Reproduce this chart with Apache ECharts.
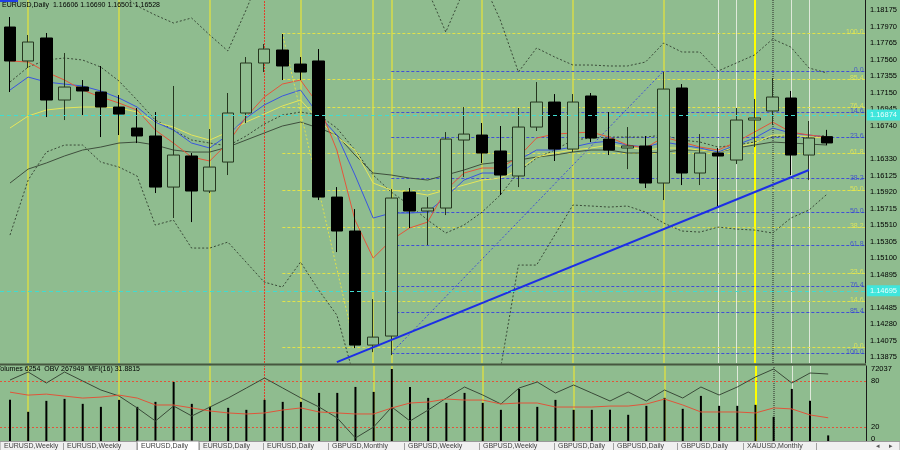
<!DOCTYPE html>
<html><head><meta charset="utf-8">
<script src="https://cdn.jsdelivr.net/npm/echarts@6/dist/echarts.min.js"></script>
<style>html,body{margin:0;padding:0;background:#8fbc8f;overflow:hidden}#c{width:900px;height:450px}</style>
</head><body><div id="c"></div>
<script>
// ---- data: EURUSD Daily, [open, close, low, high] ----
const candles = [
[1.17965,1.17544,1.17159,1.18089],[1.17544,1.17779,1.17457,1.17866],[1.17829,1.17060,1.16849,1.17891],
[1.17060,1.17221,1.16812,1.17643],[1.17221,1.17172,1.16874,1.17308],[1.17159,1.16973,1.16601,1.17482],
[1.16973,1.16886,1.16626,1.17122],[1.16713,1.16614,1.16527,1.16961],[1.16614,1.15981,1.15907,1.16911],
[1.15981,1.16378,1.15597,1.17234],[1.16366,1.15932,1.15547,1.16403],[1.15932,1.16229,1.15907,1.16700],
[1.16291,1.16899,1.16130,1.17147],[1.16899,1.17519,1.16775,1.17593],[1.17519,1.17692,1.17407,1.17754],
[1.17680,1.17482,1.17308,1.17878],[1.17506,1.17407,1.17308,1.17593],[1.17544,1.15857,1.15820,1.17692],
[1.15857,1.15436,1.15175,1.15981],[1.15436,1.14022,1.13985,1.15708],[1.14022,1.14121,1.13935,1.14592],
[1.14134,1.15845,1.13898,1.15956],[1.15919,1.15684,1.15473,1.15969],[1.15684,1.15721,1.15262,1.15857],
[1.15721,1.16576,1.15634,1.16663],[1.16564,1.16638,1.16105,1.16973],[1.16626,1.16403,1.16279,1.16775],
[1.16428,1.16130,1.15882,1.16738],[1.16118,1.16725,1.15981,1.16961],[1.16725,1.17035,1.16676,1.17283],
[1.17035,1.16452,1.16304,1.17134],[1.16452,1.17035,1.16415,1.17134],[1.17110,1.16589,1.16539,1.17147],
[1.16576,1.16440,1.16378,1.16911],[1.16465,1.16490,1.16204,1.16725],[1.16490,1.16031,1.15969,1.16614],
[1.16031,1.17196,1.15820,1.17407],[1.17209,1.16155,1.16006,1.17258],[1.16155,1.16403,1.16006,1.16638],
[1.16403,1.16366,1.15733,1.16465],[1.16316,1.16812,1.16266,1.16961],[1.16812,1.16837,1.16477,1.17072],
[1.16924,1.17097,1.16750,1.17333],[1.17085,1.16378,1.16130,1.17172],[1.16378,1.16589,1.16068,1.16800],
[1.16606,1.16528,1.16501,1.16690]
];
const maRed = [1.17544,1.17531,1.17407,1.17308,1.17184,1.17097,1.17023,1.16936,1.16688,1.16527,1.16353,1.16304,1.16527,1.16849,1.17097,1.17258,1.17308,
1.16998,1.16440,1.15572,1.15101,1.15324,1.15473,1.15547,1.15944,1.16155,1.16217,1.16217,1.16353,1.16589,1.16638,1.16651,1.16663,
1.16601,1.16502,1.16465,1.16601,1.16539,1.16477,1.16440,1.16539,1.16663,1.16787,1.16663,1.16626,1.16601];
const maBlue = [1.17184,1.17345,1.17283,1.17258,1.17234,1.17172,1.17085,1.16973,1.16787,1.16688,1.16527,1.16465,1.16626,1.16837,1.16998,1.17110,1.17184,
1.16874,1.16626,1.16130,1.15597,1.15659,1.15659,1.15671,1.15857,1.16068,1.16155,1.16155,1.16316,1.16440,1.16440,1.16477,1.16527,
1.16552,1.16502,1.16477,1.16539,1.16502,1.16465,1.16415,1.16502,1.16589,1.16713,1.16651,1.16626,1.16601];
const maYellow = [1.16713,1.16862,1.16936,1.16961,1.16973,1.16973,1.16961,1.16911,1.16787,1.16725,1.16626,1.16564,1.16663,1.16787,1.16886,1.16986,1.17060,
1.16812,1.16601,1.16440,1.16031,1.15944,1.15919,1.15882,1.15944,1.16006,1.16068,1.16093,1.16192,1.16353,1.16403,1.16440,1.16465,
1.16502,1.16477,1.16440,1.16465,1.16465,1.16440,1.16415,1.16477,1.16527,1.16626,1.16626,1.16601,1.16589];
const maGray = [1.16031,1.16204,1.16279,1.16366,1.16440,1.16477,1.16527,1.16539,1.16502,1.16440,1.16415,1.16415,1.16477,1.16564,1.16651,1.16738,1.16787,
1.16713,1.16626,1.16378,1.16155,1.16130,1.16093,1.16068,1.16130,1.16192,1.16266,1.16291,1.16316,1.16353,1.16378,1.16415,1.16440,
1.16440,1.16403,1.16403,1.16415,1.16440,1.16440,1.16415,1.16465,1.16502,1.16539,1.16527,1.16514,1.16502];
const bbUpper = [1.19032,1.18870,1.18697,1.18660,1.18660,1.18697,1.18399,1.18226,1.18114,1.18015,1.18077,1.17866,1.17668,1.18176,1.18722,1.19007,1.18771,
1.19044,1.19032,1.19292,1.18672,1.18672,1.18672,1.18424,1.17903,1.18424,1.18548,1.18052,1.17407,1.17705,1.17593,1.17494,1.17494,
1.17482,1.17482,1.17531,1.17767,1.17655,1.17655,1.17420,1.17519,1.17618,1.17816,1.17717,1.17457,1.17395];
const bbMiddle = [1.17283,1.17469,1.17556,1.17581,1.17556,1.17469,1.17296,1.17060,1.16812,1.16688,1.16564,1.16527,1.16490,1.16614,1.16762,1.16874,1.16911,
1.16874,1.16713,1.16440,1.16130,1.15919,1.15758,1.15572,1.15411,1.15510,1.15671,1.15882,1.16167,1.16341,1.16440,1.16564,1.16589,
1.16601,1.16601,1.16601,1.16626,1.16564,1.16539,1.16477,1.16502,1.16539,1.16601,1.16626,1.16589,1.16626];
const bbLower = [1.15386,1.16068,1.16415,1.16502,1.16502,1.16291,1.16229,1.16118,1.15510,1.15572,1.15225,1.15225,1.15299,1.15051,1.14803,1.14741,1.15051,
1.14704,1.14394,1.13588,1.13588,1.13166,1.12844,1.12720,1.12918,1.12844,1.12968,1.13712,1.15014,1.15014,1.15386,1.15758,1.15746,
1.15733,1.15746,1.15671,1.15535,1.15436,1.15423,1.15485,1.15460,1.15448,1.15411,1.15597,1.15696,1.15894];
const volumes = [39930,28600,38990,40880,36160,33320,39930,33320,38040,56920,36160,33320,32380,30490,39930,38040,38040,
46540,46540,52200,47480,69190,52200,41820,37100,46540,37100,30490,50310,33320,39930,30490,30490,
30490,25770,34270,41820,31440,43710,34270,34270,35210,23880,50310,38990,6254];
const obv = [245749,275349,234649,275349,242049,208749,186549,142149,94049,149549,112549,145849,179149,216149,253149,216149,179149,
145849,105149,31149,71849,145849,94049,134749,179149,219849,190249,156949,216149,238349,197649,227249,197649,
168049,201349,168049,208749,179149,219849,190249,219849,256849,286449,234649,271649,267949];
const mfi = [65.6,61.7,63.0,60.4,57.8,59.1,61.7,57.8,48.7,48.7,44.8,40.8,38.2,36.9,38.2,42.1,44.8,
39.5,38.2,36.9,36.9,44.8,51.3,52.6,56.5,55.2,55.2,50.0,51.3,51.3,46.0,46.0,46.0,
47.3,47.3,50.0,56.5,48.7,39.5,39.5,39.5,38.2,44.8,43.5,35.6,31.8815];
const priceTicks = [1.18175,1.17970,1.17765,1.17560,1.17355,1.17150,1.16945,1.16740,1.16330,1.16125,1.15920,
1.15715,1.15510,1.15305,1.15100,1.14895,1.14485,1.14280,1.14075,1.13875];
const mfiTicks = [80, 20, 0];
const mfiLevels = [80, 20];
const volumeMaxTick = 72037;
const fibRatios = [0, 14.6, 23.6, 38.2, 50, 61.8, 76.4, 85.4, 100];
const fibYellowBars = [15, 19];          // high bar -> low bar
const fibYellowPrices = [1.17891, 1.13997]; // 100 level, 0 level
const fibBlueBars = [21, 36];            // low bar -> high bar
const fibBluePrices = [1.13923, 1.17420];   // 100 level, 0 level
const trendBars = [18, 44];
const trendPrices = [1.13811, 1.16192];
const cyanLevels = [1.16874, 1.14695];
const lastQuote = [1.16606, 1.16690, 1.16501, 1.16528];
const vYellow = [1, 6, 11, 16, 20, 21, 26, 31, 36];
const vBright = [41];
const vRed = [14];
const vLight = [39, 40, 43, 44];
const vGrayDot = [42];
const tabNames = ['EURUSD,Weekly','EURUSD,Weekly','EURUSD,Daily','EURUSD,Daily','EURUSD,Daily','GBPUSD,Monthly',
'GBPUSD,Weekly','GBPUSD,Weekly','GBPUSD,Daily','GBPUSD,Daily','GBPUSD,Daily','XAUUSD,Monthly'];
const activeTab = 2;

// ---- layout ----
const BG = '#8fbc8f';
const P_MIN = 1.138, P_MAX = 1.183;
const X_MIN = -0.55, X_MAX = 47.08;
const FONT = 'Liberation Sans';
const tabEdges = [0, 63, 137, 199, 263, 328, 404, 479, 554, 613, 677, 743, 816];

const pair = arr => arr.map((v, i) => [i, v]);
const lineS = (arr, color, type, width, extra) => Object.assign({
  type: 'line', xAxisIndex: 0, yAxisIndex: 0, data: pair(arr), showSymbol: false, symbol: 'none',
  silent: true, z: 2, lineStyle: {color, width: width || 1, type: type || 'solid'}
}, extra || {});

const vlineItems = () => [].concat(
  vYellow.map(i => ({xAxis: i, lineStyle: {color: '#d6dc4a', width: 1.5, type: 'solid'}})),
  vBright.map(i => ({xAxis: i, lineStyle: {color: '#ffff00', width: 2, type: 'solid'}})),
  vRed.map(i => ({xAxis: i, lineStyle: {color: '#e0402a', width: 1, type: [2, 1]}})),
  vLight.map(i => ({xAxis: i, lineStyle: {color: '#dfe9da', width: 1, type: 'solid'}})),
  vGrayDot.map(i => ({xAxis: i, lineStyle: {color: '#4a5a48', width: 1.5, type: [1, 1]}}))
);
const mlBase = {symbol: ['none', 'none'], silent: true, animation: false, label: {show: false}, precision: 6};

function fibLevelPrice(prices, r) { return prices[1] + (prices[0] - prices[1]) * r / 100; }
function fibLines(startBar, prices, color) {
  return fibRatios.map(r => {
    const p = fibLevelPrice(prices, r);
    return [{coord: [startBar, p], lineStyle: {color, width: 1, type: [3, 2]}}, {coord: [X_MAX, p]}];
  });
}
function fibLabels(prices, color) {
  return {
    type: 'scatter', xAxisIndex: 0, yAxisIndex: 0, symbolSize: 0, silent: true, z: 2,
    data: fibRatios.map(r => ({value: [X_MAX - 0.02, fibLevelPrice(prices, r)], name: r.toFixed(1)})),
    label: {show: true, position: 'left', distance: 1, offset: [0, -1], formatter: p => p.name,
      color, fontSize: 7, fontFamily: FONT}
  };
}
const rightAxisLine = {show: true, onZero: false, lineStyle: {color: '#1a1a1a', width: 1}};

const series = [
  {type: 'line', xAxisIndex: 0, yAxisIndex: 0, data: [], silent: true,
   markLine: Object.assign({}, mlBase, {z: 1, data: vlineItems()})},
  {type: 'line', xAxisIndex: 0, yAxisIndex: 0, data: [], silent: true,
   markLine: Object.assign({}, mlBase, {z: 1, data: fibLines(fibYellowBars[0], fibYellowPrices, '#e2e24a')
     .concat(fibLines(fibBlueBars[0], fibBluePrices, '#4150d6'))})},
  fibLabels(fibYellowPrices, '#ecec50'),
  fibLabels(fibBluePrices, '#3444d4'),
  lineS(bbUpper, '#3a4a38', [2, 2]),
  lineS(bbMiddle, '#3a4a38', [2, 2]),
  lineS(bbLower, '#3a4a38', [2, 2]),
  lineS(maGray, '#3f4f3d'),
  lineS(maYellow, '#e6e65a'),
  lineS(maBlue, '#3a55e0'),
  lineS(maRed, '#e5553a'),
  {type: 'line', xAxisIndex: 0, yAxisIndex: 0, symbol: 'none', silent: true, z: 2,
   data: [[fibYellowBars[0], fibYellowPrices[0]], [fibYellowBars[1], fibYellowPrices[1]]],
   lineStyle: {color: '#e2e24a', width: 1, type: [2, 2]}},
  {type: 'line', xAxisIndex: 0, yAxisIndex: 0, symbol: 'none', silent: true, z: 2,
   data: [[fibBlueBars[0], fibBluePrices[0]], [fibBlueBars[1], fibBluePrices[1]]],
   lineStyle: {color: '#4150d6', width: 1, type: [2, 2]}},
  {type: 'candlestick', xAxisIndex: 0, yAxisIndex: 0, z: 3, silent: true, barWidth: 12,
   data: candles.map((c, i) => [i, c[0], c[1], c[2], c[3]]),
   encode: {x: 0, y: [1, 2, 3, 4]},
   itemStyle: {color: BG, color0: '#000000', borderColor: '#26361f', borderColor0: '#000000', borderWidth: 1}},
  {type: 'line', xAxisIndex: 0, yAxisIndex: 0, symbol: 'none', silent: true, z: 4,
   data: [[trendBars[0], trendPrices[0]], [trendBars[1], trendPrices[1]]],
   lineStyle: {color: '#1c2ee6', width: 2}},
  {type: 'line', xAxisIndex: 0, yAxisIndex: 0, data: [], silent: true,
   markLine: Object.assign({}, mlBase, {z: 6, data: cyanLevels.map(p => ({
       yAxis: p, lineStyle: {color: '#40dcd0', width: 1, type: [4, 3]},
       label: {show: true, position: 'end', distance: 2, formatter: p.toFixed(5), color: '#e8fffd',
         backgroundColor: '#40e6dc', padding: [2, 3, 1, 3], fontSize: 7.5, fontFamily: FONT}
     })).concat([{
       yAxis: lastQuote[3], lineStyle: {opacity: 0},
       label: {show: true, position: 'end', distance: 2, formatter: lastQuote[3].toFixed(5), color: '#d8d8d8',
         backgroundColor: '#000', padding: [2, 3, 1, 3], fontSize: 7.5, fontFamily: FONT}
     }])})},
  // ---- indicator window ----
  {type: 'line', xAxisIndex: 1, yAxisIndex: 1, data: [], silent: true,
   markLine: Object.assign({}, mlBase, {z: 1, data: vlineItems()})},
  {type: 'bar', xAxisIndex: 1, yAxisIndex: 2, data: pair(volumes), barWidth: 2, silent: true, z: 3,
   itemStyle: {color: '#000'}},
  {type: 'line', xAxisIndex: 1, yAxisIndex: 3, data: pair(obv), symbol: 'none', silent: true, z: 4,
   lineStyle: {color: '#3a4a38', width: 1}},
  {type: 'line', xAxisIndex: 1, yAxisIndex: 1, data: pair(mfi), symbol: 'none', silent: true, z: 4,
   lineStyle: {color: '#e0553a', width: 1},
   markLine: Object.assign({}, mlBase, {z: 2, data: mfiLevels.map(v => ({yAxis: v,
     lineStyle: {color: '#e0553a', width: 1, type: [2, 2]}}))})}
];

const tabGraphics = [];
tabNames.forEach((n, k) => {
  const x0 = tabEdges[k], x1 = tabEdges[k + 1];
  if (k === activeTab) {
    tabGraphics.push({type: 'rect', z: 101, shape: {x: x0, y: 441, width: x1 - x0, height: 10},
      style: {fill: '#ffffff', stroke: '#8a8a8a', lineWidth: 1}});
  }
  tabGraphics.push({type: 'line', z: 102, shape: {x1: x1 + 0.5, y1: 443, x2: x1 + 0.5, y2: 450},
    style: {stroke: '#a0a0a0', lineWidth: 1}});
  tabGraphics.push({type: 'text', z: 103, x: x0 + 4, y: 446,
    style: {text: n, fill: '#404040', font: '7px "' + FONT + '"', verticalAlign: 'middle'}});
});

const option = {
  animation: false,
  backgroundColor: BG,
  grid: [
    {left: 0, right: 34, top: 0, height: 363},
    {left: 0, right: 34, top: 366, height: 76}
  ],
  xAxis: [
    {type: 'value', gridIndex: 0, min: X_MIN, max: X_MAX, show: false},
    {type: 'value', gridIndex: 1, min: X_MIN, max: X_MAX, show: false}
  ],
  yAxis: [
    {type: 'value', gridIndex: 0, min: P_MIN, max: P_MAX, position: 'right',
     axisLine: rightAxisLine, axisTick: {show: false}, splitLine: {show: false},
     axisLabel: {customValues: priceTicks, formatter: v => v.toFixed(5), color: '#000',
       fontSize: 7.5, fontFamily: FONT, margin: 5}},
    {type: 'value', gridIndex: 1, min: 0, max: 100, position: 'right',
     axisLine: rightAxisLine, axisTick: {show: false}, splitLine: {show: false},
     axisLabel: {customValues: mfiTicks, formatter: v => v === 0 ? '{z|0}' : String(v), color: '#000',
       fontSize: 7.5, fontFamily: FONT, margin: 5,
       rich: {z: {padding: [0, 0, 6, 0], fontSize: 7.5, fontFamily: FONT, color: '#000'}}}},
    {type: 'value', gridIndex: 1, min: 0, max: volumeMaxTick, position: 'right',
     axisLine: {show: false, onZero: false}, axisTick: {show: false}, splitLine: {show: false},
     axisLabel: {customValues: [volumeMaxTick], formatter: v => '{t|' + v + '}', margin: 5,
       rich: {t: {padding: [6, 0, 0, 0], fontSize: 7.5, fontFamily: FONT, color: '#000'}}}},
    {type: 'value', gridIndex: 1, min: 16349, max: 297549, show: false, axisLine: {onZero: false}}
  ],
  series,
  graphic: [
    {type: 'rect', z: 100, shape: {x: 0, y: 0, width: 18, height: 2}, style: {fill: '#2040e8'}},
    {type: 'text', z: 100, x: 2, y: 5,
     style: {text: 'EURUSD,Daily  ' + lastQuote.map(v => v.toFixed(5)).join(' '), fill: '#000',
       font: '7px "' + FONT + '"', verticalAlign: 'middle'}},
    {type: 'rect', z: 100, shape: {x: 0, y: 363.5, width: 866, height: 2}, style: {fill: '#46573f'}},
    {type: 'text', z: 100, x: -4, y: 369.5,
     style: {text: 'Volumes ' + volumes[volumes.length - 1] + '  OBV ' + obv[obv.length - 1] +
       '  MFI(16) ' + mfi[mfi.length - 1].toFixed(4), fill: '#000', font: '7px "' + FONT + '"', verticalAlign: 'middle'}},
    {type: 'rect', z: 100, shape: {x: 0, y: 441.5, width: 900, height: 9},
     style: {fill: '#f0f0f0', stroke: '#9a9a9a', lineWidth: 1}},
    ...tabGraphics,
    {type: 'text', z: 103, x: 876, y: 446, style: {text: '◂', fill: '#555', font: '7px "DejaVu Sans"', verticalAlign: 'middle'}},
    {type: 'text', z: 103, x: 889, y: 446, style: {text: '▸', fill: '#555', font: '7px "DejaVu Sans"', verticalAlign: 'middle'}}
  ]
};

const chart = echarts.init(document.getElementById('c'), null, {renderer: 'canvas'});
chart.setOption(option);
</script>
</body></html>
